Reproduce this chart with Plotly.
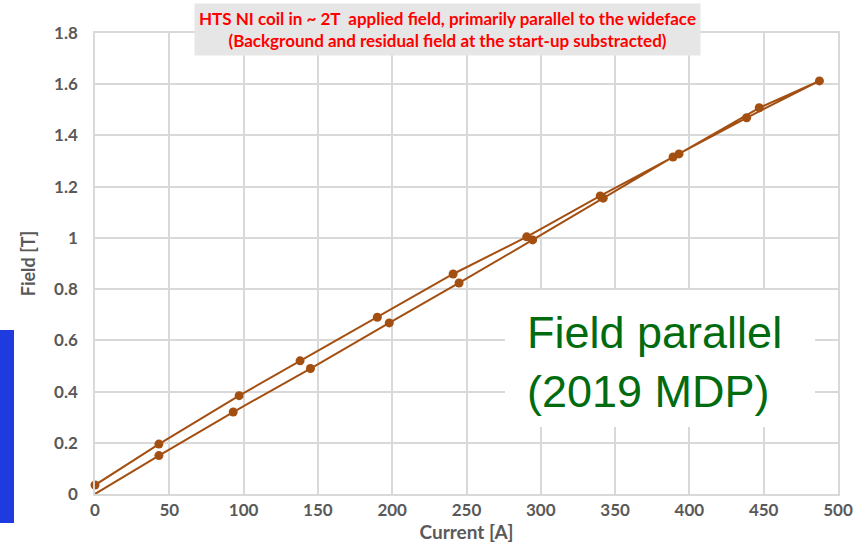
import plotly.graph_objects as go

# measured ramp: up along the lower branch, back down along the upper branch
current = [0, 43, 93, 145, 198, 245, 294.5, 342, 389, 438.5, 487.5,
           447, 393, 340, 290.5, 241, 190, 138, 97, 43, 0]
field = [0, 0.15, 0.32, 0.49, 0.668, 0.824, 0.992, 1.155, 1.316, 1.469, 1.613,
         1.508, 1.328, 1.164, 1.004, 0.859, 0.69, 0.52, 0.384, 0.195, 0.035]
marker_sizes = [0] + [9] * (len(current) - 1)

x_ticks = [0, 50, 100, 150, 200, 250, 300, 350, 400, 450, 500]
y_ticks = [0, 0.2, 0.4, 0.6, 0.8, 1, 1.2, 1.4, 1.6, 1.8]
y_tick_text = ['0', '0.2', '0.4', '0.6', '0.8', '1', '1.2', '1.4', '1.6', '1.8']

brown = '#A44F12'
gray = '#595959'
tick_font = dict(family='Lato', size=17, color=gray, weight='bold')

fig = go.Figure()
fig.add_trace(go.Scatter(
    x=current, y=field,
    mode='lines+markers',
    line=dict(color=brown, width=2),
    marker=dict(color=brown, size=marker_sizes, opacity=1, line=dict(width=0)),
    cliponaxis=False,
    showlegend=False,
))

fig.update_layout(
    width=858, height=555,
    paper_bgcolor='white', plot_bgcolor='white',
    margin=dict(l=95, r=20, t=33, b=61, autoexpand=False),
    font=dict(family='Lato'),
)

fig.update_xaxes(
    range=[0, 500], tickvals=x_ticks, ticks='', tickfont=tick_font,
    showgrid=True, gridcolor='#D9D9D9', gridwidth=1.5,
    showline=True, linecolor='#D9D9D9', linewidth=1.5, mirror=True,
    zeroline=False, automargin=False,
    title=dict(text='Current [A]', font=dict(family='Lato', size=19, color=gray, weight='bold'),
               standoff=4),
)
fig.update_yaxes(
    range=[0, 1.8], tickvals=y_ticks, ticktext=y_tick_text, ticks='', tickfont=tick_font,
    showgrid=True, gridcolor='#D9D9D9', gridwidth=1.5,
    showline=True, linecolor='#D9D9D9', linewidth=1.5, mirror=True,
    zeroline=False, ticklabelstandoff=12, automargin=False,
    title=dict(text='Field [T]', font=dict(family='Lato', size=18, color=gray, weight='bold'),
               standoff=14),
)

# title box
fig.add_annotation(
    xref='paper', yref='paper', x=(447 - 95) / 743, y=1 + (33 - 30) / 461,
    xanchor='center', yanchor='middle',
    text='HTS NI coil in ~ 2T  applied field, primarily parallel to the wideface<br>'
         '(Background and residual field at the start-up substracted)',
    showarrow=False, align='center',
    font=dict(family='Lato', size=17, color='#FF0000', weight='bold'),
    bgcolor='#E7E6E6', borderpad=4,
)

# white box with the green label
fig.add_shape(
    type='rect', xref='paper', yref='paper',
    x0=(505 - 95) / 743, x1=(815 - 95) / 743,
    y0=(494 - 427) / 461, y1=(494 - 290) / 461,
    fillcolor='white', line=dict(width=0), layer='above',
)
fig.add_annotation(
    xref='paper', yref='paper', x=(525 - 95) / 743, y=(494 - 362) / 461,
    xanchor='left', yanchor='middle',
    text='Field parallel<br>(2019 MDP)',
    showarrow=False, align='left',
    font=dict(family='Liberation Sans', size=45, color='#006B0F'),
)

# blue bar at the left edge
fig.add_shape(
    type='rect', xref='paper', yref='paper',
    x0=-95 / 743, x1=(14 - 95) / 743,
    y0=(494 - 523) / 461, y1=(494 - 330) / 461,
    fillcolor='#1F3BDF', line=dict(width=0),
)

# drop the default page margin so the figure sits at the window's corner
fig.write_html('out.html', config={'displayModeBar': False},
               post_script="document.body.style.margin='0';")
